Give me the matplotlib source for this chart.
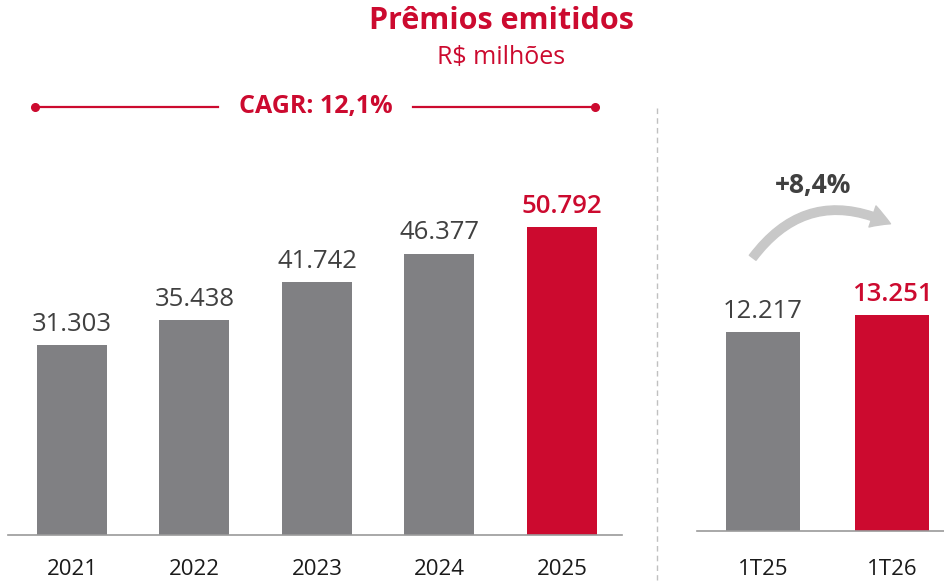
import matplotlib
matplotlib.use("Agg")
import matplotlib.pyplot as plt
from matplotlib.patches import FancyArrowPatch
from matplotlib.lines import Line2D

years = ["2021", "2022", "2023", "2024", "2025"]
annual = [31303, 35438, 41742, 46377, 50792]
quarters = ["1T25", "1T26"]
quarterly = [12217, 13251]
cagr_text = "CAGR: 12,1%"
growth_text = "+8,4%"

GRAY = "#808083"
RED = "#CC0A2F"
TXT = "#404040"
FONT = ["Open Sans", "DejaVu Sans"]
plt.rcParams["font.family"] = FONT

W, H = 944, 582
fig = plt.figure(figsize=(W / 100, H / 100), dpi=100)

def fmt(v):
    return f"{v:,}".replace(",", ".")

def px_axes(x0, x1, ytop, ybase):
    return fig.add_axes([x0 / W, (H - ybase) / H, (x1 - x0) / W, (ybase - ytop) / H])

# Left panel
axL = px_axes(8, 622, 100, 535)
xl = list(range(len(years)))
colsL = [GRAY] * (len(years) - 1) + [RED]
axL.bar(xl, annual, width=0.571, color=colsL, zorder=2)
axL.set_xlim(-0.522, 4.49)
axL.set_ylim(0, 50792 * 435 / 308)
for i, v in enumerate(annual):
    last = i == len(annual) - 1
    axL.annotate(fmt(v), (i, v), xytext=(0, 6), textcoords="offset points",
                 ha="center", va="bottom", fontsize=18.5,
                 color=RED if last else TXT,
                 fontweight="semibold" if last else "normal")

# Right panel
axR = px_axes(697, 944, 100, 531)
xr = list(range(len(quarters)))
axR.bar(xr, quarterly, width=0.574, color=[GRAY, RED], zorder=2)
axR.set_xlim(-0.512, 1.403)
axR.set_ylim(0, 431 / 0.01629)
for i, v in enumerate(quarterly):
    axR.annotate(fmt(v), (i, v), xytext=(0, 6), textcoords="offset points",
                 ha="center", va="bottom", fontsize=18.5,
                 color=RED if i == 1 else TXT,
                 fontweight="semibold" if i == 1 else "normal")

for ax, labels, pad in ((axL, years, 17), (axR, quarters, 20)):
    for s in ("top", "right", "left"):
        ax.spines[s].set_visible(False)
    ax.spines["bottom"].set_color("#9a9a9a")
    ax.spines["bottom"].set_linewidth(1.2)
    ax.set_yticks([])
    ax.set_xticks(range(len(labels)))
    ax.set_xticklabels(labels, fontsize=16, color="#1a1a1a")
    ax.tick_params(axis="x", length=0, pad=pad)
    ax.patch.set_alpha(0)

# Titles
fig.text(501 / W, 1 - 21 / H, "Prêmios emitidos", ha="center", va="center",
         fontsize=22, fontweight="bold", color=RED)
fig.text(501 / W, 1 - 58 / H, "R$ milhões", ha="center", va="center",
         fontsize=18, color=RED)

# CAGR line
yc = 1 - 107 / H
for xa, xb in ((35, 218), (413, 595)):
    fig.add_artist(Line2D([xa / W, xb / W], [yc, yc], color=RED, lw=1.6))
fig.add_artist(Line2D([35 / W, 595 / W], [yc, yc], color=RED, lw=0, marker="o",
                      markersize=5.5))
fig.text(316 / W, yc, cagr_text, ha="center", va="center", fontsize=18,
         fontweight="bold", color=RED)

# Dashed separator
fig.add_artist(Line2D([657 / W, 657 / W], [1 - 108 / H, 1 - 580 / H],
                      color="#c0c0c0", lw=1, ls=(0, (4, 3))))

# Growth arrow
arrow = FancyArrowPatch((751, H - 260), (893, H - 225),
                        connectionstyle="arc3,rad=-0.42",
                        arrowstyle="simple,head_width=16,head_length=14,tail_width=6",
                        color="#c8c8c8", transform=None, zorder=1)
fig.add_artist(arrow)
fig.text(813 / W, 1 - 186 / H, growth_text, ha="center", va="center",
         fontsize=19, fontweight="bold", color=TXT)

fig.savefig("out.png", dpi=100)
